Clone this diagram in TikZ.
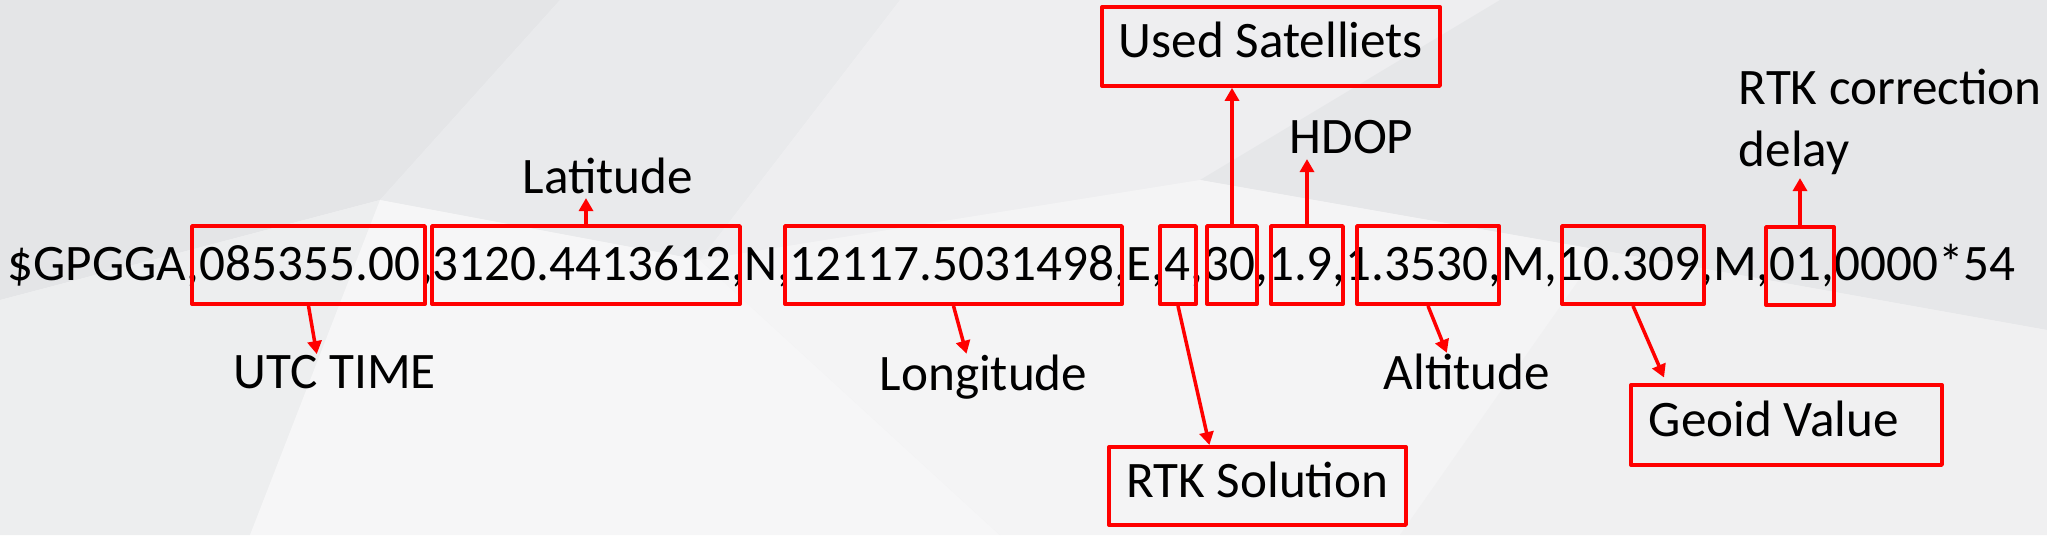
\documentclass[tikz,border=0pt]{standalone}
\usepackage{fontspec}
\setmainfont{Carlito}
\usetikzlibrary{arrows.meta}
\definecolor{bgbase}{HTML}{F2F2F3}
\definecolor{bgA}{HTML}{E4E5E7}
\definecolor{bgB}{HTML}{EDEEEF}
\definecolor{bgC}{HTML}{E9EAEC}
\definecolor{bgD}{HTML}{F6F6F7}
\definecolor{bgE}{HTML}{EEEEF0}
\definecolor{bgF}{HTML}{E6E7E9}
\definecolor{bgG}{HTML}{F4F4F5}
\definecolor{bgH}{HTML}{F0F0F1}
\definecolor{hlred}{HTML}{FF0000}
\begin{document}
\begin{tikzpicture}[x=0.1mm,y=-0.1mm,
  font=\fontsize{14.56pt}{17.64pt}\selectfont,
  fbox/.style={draw=hlred, line width=0.38mm, line join=round, inner sep=0pt, minimum height=7.8mm},
  lbox/.style={draw=hlred, line width=0.38mm, line join=round, anchor=north west,
    inner ysep=0pt, text height=3.6mm, text depth=1.3mm},
  lbl/.style={inner sep=0pt, anchor=base west},
  arr/.style={draw=hlred, line width=0.35mm, -{Triangle[length=1.3mm,width=1.4mm]}}
]
\useasboundingbox (0,0) rectangle (2047,535);
% background low-poly
\fill[bgbase] (0,0) rectangle (2047,535);
\fill[bgA] (0,0) -- (560,0) -- (380,200) -- (0,300) -- cycle;
\fill[bgB] (0,300) -- (380,200) -- (250,535) -- (0,535) -- cycle;
\fill[bgC] (560,0) -- (900,0) -- (700,260) -- (380,200) -- cycle;
\fill[bgD] (380,200) -- (700,260) -- (1000,535) -- (250,535) -- cycle;
\fill[bgE] (900,0) -- (1500,0) -- (1200,180) -- (700,260) -- cycle;
\fill[bgF] (1500,0) -- (2047,0) -- (2047,330) -- (1600,250) -- (1200,180) -- cycle;
\fill[bgG] (1200,180) -- (1600,250) -- (1400,535) -- (1000,535) -- (700,260) -- cycle;
\fill[bgH] (1600,250) -- (2047,330) -- (2047,535) -- (1400,535) -- cycle;

% sentence
\node[lbl] (nmea) at (7,280) {\$GPGGA,085355.00,3120.4413612,N,12117.5031498,E,4,30,1.9,1.3530,M,10.309,M,01,0000*54};

% field boxes
\node[fbox, minimum width=23.3mm] (b1) at (308.5,265) {};
\node[fbox, minimum width=30.8mm] (b2) at (586,265) {};
\node[fbox, minimum width=33.7mm] (b3) at (953.5,265) {};
\node[fbox, minimum width=3.6mm]  (b4) at (1178,265) {};
\node[fbox, minimum width=5.0mm]  (b5) at (1232,265) {};
\node[fbox, minimum width=7.2mm]  (b6) at (1307,265) {};
\node[fbox, minimum width=14.2mm] (b7) at (1428,265) {};
\node[fbox, minimum width=14.2mm] (b8) at (1633,265) {};
\node[fbox, minimum width=6.8mm]  (b9) at (1800,266) {};

% labels
\node[lbl] (lat) at (522,193) {Latitude};
\node[lbl] (utc) at (233,388) {UTC TIME};
\node[lbl] (lon) at (879,390) {Longitude};
\node[lbl] (alt) at (1383,389) {Altitude};
\node[lbl] (hdop) at (1289,153) {HDOP};
\node[inner sep=0pt, anchor=north west, align=left] (rtkc) at (1738,68) {RTK correction\\delay};
\node[lbox, minimum width=33.8mm, minimum height=7.9mm] (usat) at (1100,5) {Used Satelliets};
\node[lbox, minimum width=29.7mm, minimum height=7.8mm] (rtks) at (1107,445) {RTK Solution};
\node[lbox, text width=27.5mm, align=flush left, inner xsep=1.8mm, minimum height=8mm] (geo) at (1629,383) {Geoid Value};

% connectors
\draw[arr, shorten >=0.4mm] (b2.north) -- (b2.north |- lat.south);
\draw[arr] (b5.north) -- (b5.north |- usat.south);
\draw[arr, shorten >=0.5mm] (b6.north) -- (b6.north |- hdop.south);
\draw[arr, shorten >=0.3mm] (b9.north) -- (b9.north |- rtkc.south);
\draw[arr] (b1.south) -- ([xshift=-1.8mm]utc.north);
\draw[arr] (b3.south) -- ([xshift=-1.7mm]lon.north);
\draw[arr] (b4.south) -- ([xshift=-4.8mm]rtks.north);
\draw[arr] (b7.south) -- ([xshift=-2mm]alt.north);
\draw[arr, shorten >=0.6mm] (b8.south) -- ([xshift=-12mm]geo.north);
\end{tikzpicture}
\end{document}
